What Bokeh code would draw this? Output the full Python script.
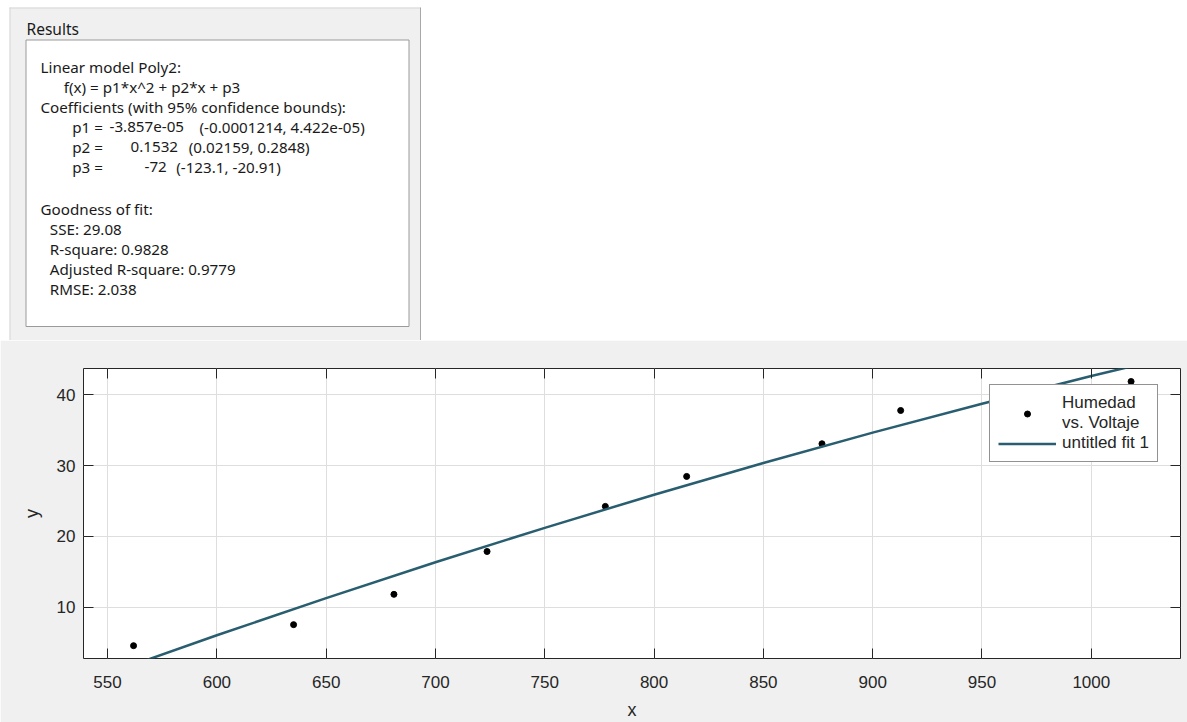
from bokeh.plotting import figure
from bokeh.models import (Range1d, FixedTicker, LinearAxis, Legend, LegendItem,
                          ColumnDataSource)
from bokeh.core.properties import value
from bokeh.embed import file_html
from bokeh.resources import INLINE
from bokeh.layouts import column

# ---------------- data ----------------
voltaje = [561.9, 635.1, 681.0, 723.6, 777.7, 814.9, 876.8, 912.8, 1018.2]
humedad = [4.56, 7.53, 11.81, 17.86, 24.23, 28.46, 33.07, 37.77, 41.86]

# fitted curve "untitled fit 1"
fit_x = [539, 550, 600, 650, 700, 750, 800, 850, 900, 950, 1000, 1041]
fit_y = [-0.63, 0.59, 6.03, 11.28, 16.34, 21.20, 25.88, 30.35, 34.64, 38.73, 42.63, 45.68]

x_ticks = [550, 600, 650, 700, 750, 800, 850, 900, 950, 1000]
y_ticks = [10, 20, 30, 40]

series_names = ["Humedad\nvs. Voltaje", "untitled fit 1"]

results_title = "Results"
results_lines = [
    "Linear model Poly2:",
    "f(x) = p1*x^2 + p2*x + p3",
    "Coefficients (with 95% confidence bounds):",
    "p1 =", "-3.857e-05", "(-0.0001214, 4.422e-05)",
    "p2 =", "0.1532", "(0.02159, 0.2848)",
    "p3 =", "-72", "(-123.1, -20.91)",
    "Goodness of fit:",
    "SSE: 29.08",
    "R-square: 0.9828",
    "Adjusted R-square: 0.9779",
    "RMSE: 2.038",
]
# layout positions (pixels) of each results text piece
results_x = [40, 63.3, 40, 71.7, 109, 199, 71.7, 130, 188.3, 71.7, 144, 175.7,
             40, 49.3, 49.3, 49.3, 49.3]
results_y = [66, 86.7, 106.7, 126.7, 126.7, 126.7, 146.7, 146.7, 146.7, 166.7, 166.7, 166.7,
             208.3, 228.3, 248.3, 268.3, 288.3]

GRAY_BG = "#f0f0f0"
AX_COL = "#262626"
FONT = "Liberation Sans"
W = 1187

# ---------------- top panel: Results ----------------
top = figure(width=W, height=340, x_range=Range1d(0, W), y_range=Range1d(340, 0),
             output_backend="svg", toolbar_location=None, min_border=0,
             x_axis_type=None, y_axis_type=None)
top.frame_align = False
top.outline_line_color = None
top.background_fill_color = "white"
top.border_fill_color = "white"
top.xgrid.visible = False
top.ygrid.visible = False

top.quad(left=9, right=420, top=7, bottom=340, fill_color=GRAY_BG, line_color=None)
top.segment(x0=[9.5, 9], y0=[7, 7.5], x1=[9.5, 420], y1=[340, 7.5],
            line_color="#d6d6d6", line_width=1)
top.segment(x0=[420], y0=[7], x1=[420], y1=[340], line_color="#a8a8a8", line_width=1)
top.quad(left=25.5, right=408.5, top=39.5, bottom=326, fill_color="white",
         line_color="#9a9a9a", line_width=1)

top.text(x=[26], y=[28], text=[results_title], text_baseline="middle", text_align="left",
         text_font=value("Noto Sans"), text_font_size="15.5px", text_color="#1a1a1a")
top.text(x=results_x, y=results_y, text=results_lines, text_baseline="middle",
         text_align="left", text_font=value("Noto Sans"), text_font_size="15.2px",
         text_color="#1a1a1a")

# ---------------- bottom: the fit plot ----------------
p = figure(width=W, height=382, x_range=Range1d(539.0, 1040.8), y_range=Range1d(2.75, 43.7),
           output_backend="svg", toolbar_location=None,
           min_border_left=83, min_border_right=7, min_border_top=28, min_border_bottom=61)
p.frame_align = False
p.background_fill_color = "white"
p.border_fill_color = GRAY_BG
p.outline_line_color = AX_COL
p.outline_line_width = 1

for ax, ticks in ((p.xaxis, x_ticks), (p.yaxis, y_ticks)):
    ax.ticker = FixedTicker(ticks=ticks)
    ax.axis_line_color = None
    ax.major_tick_in = 10
    ax.major_tick_out = 0
    ax.major_tick_line_color = AX_COL
    ax.minor_tick_line_color = None
    ax.major_label_text_font = FONT
    ax.major_label_text_font_size = "17px"
    ax.major_label_text_color = AX_COL
    ax.axis_label_text_font = FONT
    ax.axis_label_text_font_size = "18px"
    ax.axis_label_text_font_style = "normal"
    ax.axis_label_text_color = AX_COL

p.xaxis.axis_label = "x"
p.xaxis.major_label_standoff = 17
p.xaxis.axis_label_standoff = 9
p.yaxis.axis_label = "y"
p.yaxis.major_label_standoff = 8
p.yaxis.axis_label_standoff = 12

p.xgrid.ticker = FixedTicker(ticks=x_ticks)
p.ygrid.ticker = FixedTicker(ticks=y_ticks)
p.xgrid.grid_line_color = "#dedede"
p.ygrid.grid_line_color = "#dedede"

for loc, ticks in (("above", x_ticks), ("right", y_ticks)):
    ax = LinearAxis(ticker=FixedTicker(ticks=ticks), major_label_text_font_size="1px",
                    major_label_text_color=None,
                    major_label_standoff=0, major_tick_in=10, major_tick_out=0,
                    major_tick_line_color=AX_COL, minor_tick_line_color=None,
                    axis_line_color=None)
    p.add_layout(ax, loc)

src = ColumnDataSource(dict(x=voltaje, y=humedad))
pts = p.scatter("x", "y", source=src, size=6, marker="circle",
                fill_color="black", line_color="black")
fit = p.line(fit_x, fit_y, line_color="#285e70", line_width=2.5)

legend = Legend(items=[LegendItem(label=series_names[0], renderers=[pts]),
                       LegendItem(label=series_names[1], renderers=[fit])],
                location=(906, 196))
legend.border_line_color = AX_COL
legend.border_line_width = 1
legend.background_fill_color = "white"
legend.background_fill_alpha = 1
legend.label_text_font = FONT
legend.label_text_font_size = "17px"
legend.label_text_color = AX_COL
legend.glyph_width = 58
legend.glyph_height = 15
legend.label_height = 20
legend.label_standoff = 6
legend.padding = 8
legend.spacing = 0
legend.margin = 0
p.add_layout(legend)

layout = column(top, p, spacing=0)
open("out.html", "w").write(file_html(layout, INLINE))
